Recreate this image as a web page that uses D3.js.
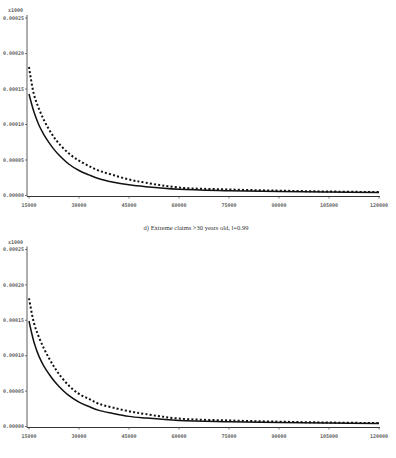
<!DOCTYPE html>
<html>
<head>
<meta charset="utf-8">
<script src="https://cdn.jsdelivr.net/npm/d3@7"></script>
<style>
  body { margin: 0; background: #fff; }
  svg { display: block; }
</style>
</head>
<body>
<script>
// x positions of the read-off points (claim size)
const claimSizes = [15000, 16500, 18000, 19500, 21000, 22500, 24000, 27000, 30000, 33000,
                    36000, 40000, 45000, 50000, 60000, 75000, 90000, 105000, 120000];

// upper panel
const topSolid = [0.000143, 0.0001175, 0.0000990, 0.0000855, 0.0000745, 0.0000650, 0.0000570, 0.0000440, 0.0000352, 0.0000290,
                  0.0000236, 0.0000190, 0.0000150, 0.0000124, 0.0000088, 0.0000068, 0.0000056, 0.0000048, 0.0000042];
const topDotted = [0.000181, 0.000142, 0.000122, 0.000106, 0.0000930, 0.0000820, 0.0000730, 0.0000590, 0.0000490, 0.0000415,
                   0.0000350, 0.0000292, 0.0000225, 0.0000180, 0.0000112, 0.0000085, 0.0000068, 0.0000056, 0.0000048];

// lower panel: d) Extreme claims >30 years old
const botSolid = [0.000149, 0.000119, 0.0000990, 0.0000850, 0.0000742, 0.0000645, 0.0000565, 0.0000435, 0.0000345, 0.0000282,
                  0.0000228, 0.0000186, 0.0000143, 0.0000120, 0.0000086, 0.0000068, 0.0000056, 0.0000048, 0.0000042];
const botDotted = [0.000181, 0.000146, 0.000126, 0.000110, 0.0000965, 0.0000845, 0.0000740, 0.0000575, 0.0000460, 0.0000390,
                   0.0000320, 0.0000270, 0.0000215, 0.0000175, 0.0000112, 0.0000085, 0.0000068, 0.0000056, 0.0000048];

const xTicks = [15000, 30000, 45000, 60000, 75000, 90000, 105000, 120000];
const yTicks = [0, 0.00005, 0.0001, 0.00015, 0.0002, 0.00025];
const bottomTitle = "d) Extreme claims >30 years old, l=0.99";

const W = 396, H = 458;
const svg = d3.select("body").append("svg").attr("width", W).attr("height", H);

const x = d3.scaleLinear().domain([15000, 120000]).range([29, 379]);

function drawPanel(y0, y25, solid, dotted) {
    const y = d3.scaleLinear().domain([0, 0.00025]).range([y0, y25]);
    const g = svg.append("g");
    const axisCol = "#555";

    // axis lines
    g.append("line")
        .attr("x1", 27).attr("x2", 27)
        .attr("y1", y25 - 3).attr("y2", y0 + 1)
        .attr("stroke", "#777").attr("stroke-width", 1.2);
    g.append("line")
        .attr("x1", 27).attr("x2", x(120000) + 1)
        .attr("y1", y0 + 1).attr("y2", y0 + 1)
        .attr("stroke", "#333").attr("stroke-width", 1.2);

    // y ticks
    g.selectAll(".yt").data(yTicks).join("line")
        .attr("x1", 25).attr("x2", 27)
        .attr("y1", d => y(d)).attr("y2", d => y(d))
        .attr("stroke", axisCol).attr("stroke-width", 0.8);
    g.selectAll(".yl").data(yTicks).join("text")
        .attr("x", 24).attr("y", d => y(d))
        .attr("dy", "0.35em")
        .attr("text-anchor", "end")
        .style("font-family", "DejaVu Sans Mono")
        .style("font-size", "5px").style("font-weight", "bold")
        .style("fill", "#666")
        .text(d => d3.format(".5f")(d));
    g.append("text")
        .attr("x", 23).attr("y", y25 - 6)
        .attr("text-anchor", "end")
        .style("font-family", "DejaVu Sans Mono")
        .style("font-size", "5px").style("font-weight", "bold")
        .style("fill", "#666")
        .text("x1000");

    // x ticks
    g.selectAll(".xt").data(xTicks).join("line")
        .attr("x1", d => x(d)).attr("x2", d => x(d))
        .attr("y1", y0 + 1).attr("y2", y0 + 3)
        .attr("stroke", axisCol).attr("stroke-width", 0.8);
    g.selectAll(".xl").data(xTicks).join("text")
        .attr("x", d => x(d)).attr("y", y0 + 10)
        .attr("dy", "0.35em")
        .attr("text-anchor", "middle")
        .style("font-family", "DejaVu Sans Mono")
        .style("font-size", "5px").style("font-weight", "bold")
        .style("fill", "#666")
        .text(d => d);

    const line = d3.line().x((d, i) => x(claimSizes[i])).y(d => y(d)).curve(d3.curveCatmullRom.alpha(0.5));

    g.append("path").datum(solid)
        .attr("d", line)
        .attr("fill", "none").attr("stroke", "#111").attr("stroke-width", 1.5);
    g.append("path").datum(dotted)
        .attr("d", line)
        .attr("fill", "none").attr("stroke", "#111").attr("stroke-width", 2)
        .attr("stroke-dasharray", "2,2.2");
}

drawPanel(195.5, 18, topSolid, topDotted);
drawPanel(426.5, 249.5, botSolid, botDotted);

svg.append("text")
    .attr("x", 196).attr("y", 228)
    .attr("dy", "0.35em")
    .attr("text-anchor", "middle")
    .style("font-family", "Liberation Serif")
    .style("font-size", "6.5px")
    .style("fill", "#333")
    .text(bottomTitle);
</script>
</body>
</html>
